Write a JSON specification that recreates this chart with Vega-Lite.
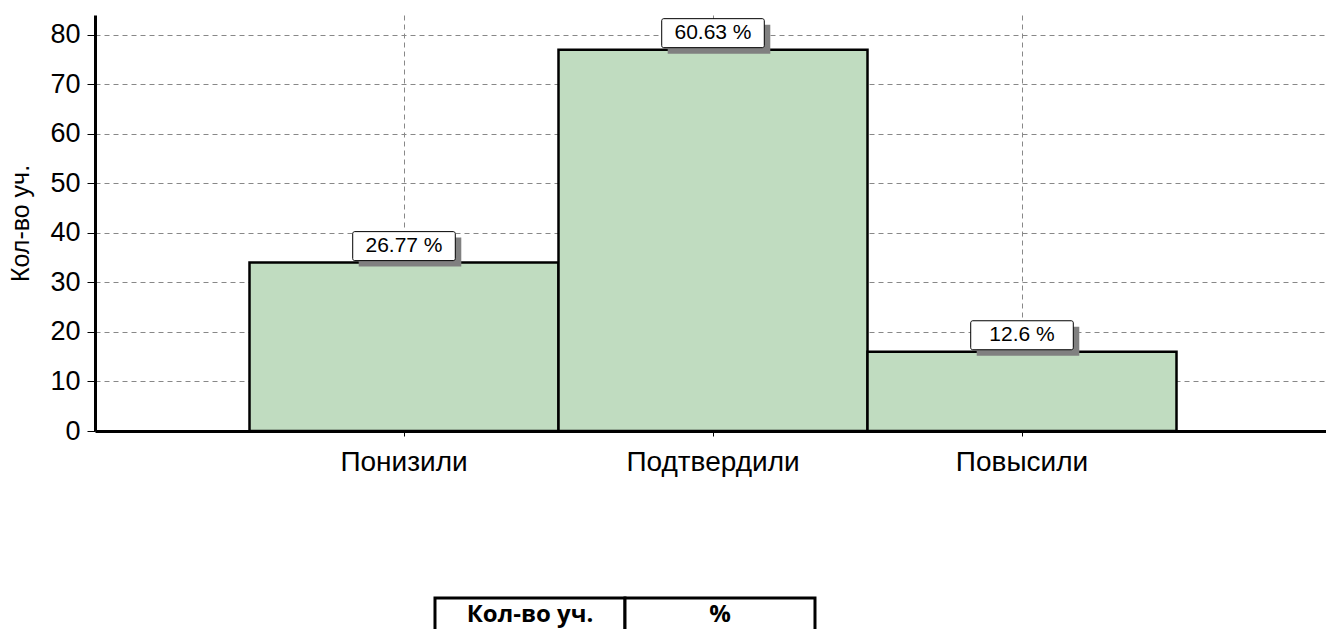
{
  "$schema": "https://vega.github.io/schema/vega-lite/v6.json",
  "padding": {"left": 8, "top": 15, "right": 0, "bottom": 0},
  "autosize": {"type": "pad"},
  "background": "white",
  "config": {"view": {"stroke": null}, "font": "Liberation Sans"},
  "spacing": 120,
  "center": true,
  "vconcat": [
    {
      "width": 1236,
      "height": 416,
      "data": {"values": [
        {"category": "Понизили", "count": 34, "pct": 26.77},
        {"category": "Подтвердили", "count": 77, "pct": 60.63},
        {"category": "Повысили", "count": 16, "pct": 12.6}
      ]},
      "transform": [{"calculate": "datum.pct + ' %'", "as": "pct_label"}],
      "encoding": {
        "x": {
          "field": "category", "type": "nominal", "sort": null,
          "scale": {"paddingInner": 0, "paddingOuter": 0.5},
          "axis": {
            "title": null, "labelAngle": 0, "labelFontSize": 28, "labelColor": "black",
            "labelPadding": 12, "domainColor": "black", "domainWidth": 3,
            "tickColor": "black", "tickSize": 5, "grid": true, "gridColor": "#888888", "gridDash": [5, 4]
          }
        }
      },
      "layer": [
        {
          "mark": {"type": "bar", "fill": "#c0dcc0", "stroke": "black", "strokeWidth": 2.5},
          "encoding": {
            "y": {
              "field": "count", "type": "quantitative",
              "scale": {"domain": [0, 84], "nice": false},
              "axis": {
                "values": [0, 2.5, 5, 7.5, 10, 12.5, 15, 17.5, 20, 22.5, 25, 27.5, 30, 32.5, 35, 37.5, 40, 42.5, 45, 47.5, 50, 52.5, 55, 57.5, 60, 62.5, 65, 67.5, 70, 72.5, 75, 77.5, 80, 82.5],
                "labelExpr": "datum.value % 10 === 0 ? datum.label : ''",
                "labelOverlap": false,
                "title": "Кол-во уч.", "titleFontSize": 25, "titleFontWeight": "normal", "titleColor": "black", "titlePadding": 16.5,
                "labelFontSize": 27, "labelColor": "black", "labelPadding": 7,
                "domainColor": "black", "domainWidth": 3, "tickColor": "black",
                "tickSize": {"condition": {"test": "datum.value % 10 === 0", "value": 8}, "value": 4},
                "grid": true, "gridColor": "#888888", "gridDash": [5, 4],
                "gridOpacity": {"condition": {"test": "datum.value % 10 === 0 && datum.value > 0", "value": 1}, "value": 0}
              }
            }
          }
        },
        {
          "mark": {"type": "bar", "fill": "#808080", "width": {"band": 0.332}, "xOffset": 6, "yOffset": 4, "y2Offset": -25},
          "encoding": {"y": {"field": "count", "type": "quantitative"}, "y2": {"field": "count"}}
        },
        {
          "mark": {"type": "bar", "fill": "white", "stroke": "black", "strokeWidth": 1, "cornerRadius": 2, "width": {"band": 0.332}, "yOffset": -2, "y2Offset": -31},
          "encoding": {"y": {"field": "count", "type": "quantitative"}, "y2": {"field": "count"}}
        },
        {
          "mark": {"type": "text", "fontSize": 21, "dy": -16.5, "color": "black"},
          "encoding": {"y": {"field": "count", "type": "quantitative"}, "text": {"field": "pct_label"}}
        }
      ]
    },
    {
      "width": 760,
      "height": 34,
      "data": {"values": [{"column": "Кол-во уч."}, {"column": "%"}]},
      "encoding": {
        "x": {"field": "column", "type": "nominal", "sort": null, "axis": null, "scale": {"paddingInner": 0, "paddingOuter": 1, "align": 0.2684}}
      },
      "layer": [
        {"mark": {"type": "rect", "fill": "white", "stroke": "black", "strokeWidth": 3}},
        {
          "mark": {"type": "text", "font": "Open Sans", "fontWeight": "bold", "fontSize": 24, "color": "black", "baseline": "middle"},
          "encoding": {"text": {"field": "column"}}
        }
      ]
    }
  ]
}
